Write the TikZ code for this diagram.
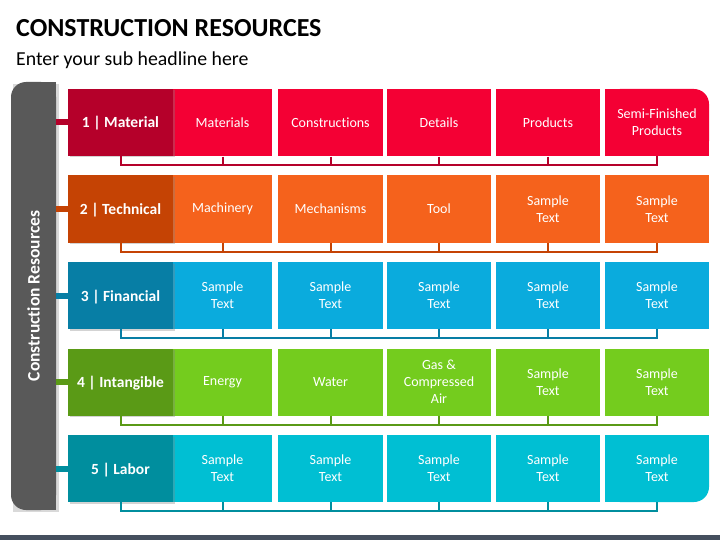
\documentclass[tikz,border=0pt]{standalone}
\usepackage{fontspec}
\setmainfont{Carlito}[Ligatures={NoCommon}]
\usetikzlibrary{shadows}
\definecolor{ra}{HTML}{B5002A}\definecolor{rb}{HTML}{F40034}
\definecolor{oa}{HTML}{C54304}\definecolor{ob}{HTML}{F5621C}
\definecolor{ba}{HTML}{077EA5}\definecolor{bb}{HTML}{0AABDD}
\definecolor{ga}{HTML}{5A9A16}\definecolor{gb}{HTML}{74CC1E}
\definecolor{ta}{HTML}{008E9E}\definecolor{tb}{HTML}{00BFD3}
\definecolor{barg}{HTML}{595959}
\definecolor{foot}{HTML}{454F5E}
\begin{document}
\begin{tikzpicture}[x=1pt,y=-1pt,
  hdr/.style={minimum width=105pt,minimum height=67pt,inner sep=0pt,text=white,
    font=\bfseries\fontsize{15.5}{18}\selectfont,text height=11pt,text depth=0pt,
    drop shadow={shadow xshift=1.5pt,shadow yshift=-1.5pt,opacity=0.35}},
  cellbox/.style={minimum width=104pt,minimum height=67pt,inner sep=0pt,text=white,
    align=center,font=\fontsize{14}{17}\selectfont},
  firstcell/.style={cellbox,minimum width=99pt},
  conn/.style={line width=2pt},
  stub/.style={line width=6pt}]
\useasboundingbox (0,0) rectangle (720,540);
% title
\node[anchor=base west,inner sep=0pt,font=\bfseries\fontsize{26}{30}\selectfont] (title) at (16,37) {CONSTRUCTION RESOURCES};
\node[anchor=base west,inner sep=0pt,font=\fontsize{19.8}{22}\selectfont] (sub) at (16,66) {Enter your sub headline here};
% footer
\fill[foot] (0,535) rectangle (720,540);
% side bar
\fill[black!15] (13,84) rectangle (59,512);
\fill[barg,rounded corners=15pt] (11,82) rectangle (56,510);
\fill[barg] (35,82) rectangle (56,510);
\node[rotate=90,text=white,font=\bfseries\fontsize{17.5}{20}\selectfont] (barlabel) at (33.5,296) {Construction Resources};
\coordinate (barE) at (56,0);

% row 1
\node[firstcell,fill=rb] (c11) at (222.5,123) {Materials};
\node[cellbox,fill=rb,minimum width=105pt] (c12) at (330.5,123) {Constructions};
\node[cellbox,fill=rb] (c13) at (439,123) {Details};
\node[cellbox,fill=rb] (c14) at (548,123) {Products};
\fill[rb,rounded corners=15pt] (605,89) rectangle (709,156);
\fill[rb] (605,89) rectangle (690,156);
\fill[rb] (605,110) rectangle (709,156);
\node[cellbox] (c15) at (657,122.5) {Semi-Finished\\Products};
\node[hdr,fill=ra] (h1) at (120.5,122.5) {1 | Material};

% row 2
\node[firstcell,fill=ob] (c21) at (222.5,209) {Machinery};
\node[cellbox,fill=ob,minimum width=105pt] (c22) at (330.5,209) {Mechanisms};
\node[cellbox,fill=ob] (c23) at (439,209) {Tool};
\node[cellbox,fill=ob] (c24) at (548,209) {Sample\\Text};
\node[cellbox,fill=ob] (c25) at (657,209) {Sample\\Text};
\node[hdr,fill=oa] (h2) at (120.5,209) {2 | Technical};

% row 3
\node[firstcell,fill=bb] (c31) at (222.5,295.5) {Sample\\Text};
\node[cellbox,fill=bb,minimum width=105pt] (c32) at (330.5,295.5) {Sample\\Text};
\node[cellbox,fill=bb] (c33) at (439,295.5) {Sample\\Text};
\node[cellbox,fill=bb] (c34) at (548,295.5) {Sample\\Text};
\node[cellbox,fill=bb] (c35) at (657,295.5) {Sample\\Text};
\node[hdr,fill=ba] (h3) at (120.5,295.5) {3 | Financial};

% row 4
\node[firstcell,fill=gb] (c41) at (222.5,382) {Energy};
\node[cellbox,fill=gb,minimum width=105pt] (c42) at (330.5,382) {Water};
\node[cellbox,fill=gb] (c43) at (439,382) {Gas \&\\Compressed\\Air};
\node[cellbox,fill=gb] (c44) at (548,382) {Sample\\Text};
\node[cellbox,fill=gb] (c45) at (657,382) {Sample\\Text};
\node[hdr,fill=ga] (h4) at (120.5,382) {4 | Intangible};

% row 5
\node[firstcell,fill=tb] (c51) at (222.5,468.5) {Sample\\Text};
\node[cellbox,fill=tb,minimum width=105pt] (c52) at (330.5,468.5) {Sample\\Text};
\node[cellbox,fill=tb] (c53) at (439,468.5) {Sample\\Text};
\node[cellbox,fill=tb] (c54) at (548,468.5) {Sample\\Text};
\fill[tb,rounded corners=15pt] (605,435) rectangle (709,502);
\fill[tb] (605,435) rectangle (690,502);
\fill[tb] (605,435) rectangle (709,480);
\node[cellbox] (c55) at (657,468.5) {Sample\\Text};
\node[hdr,fill=ta] (h5) at (120.5,468.5) {5 | Labor};

% connectors
\foreach \r/\col in {1/ra,2/oa,3/ba,4/ga,5/ta}{
  \draw[stub,\col] (barE |- h\r.west) -- (h\r.west);
  \draw[conn,\col] (h\r.south) -- ++(0,9) -| (c\r5.south);
  \foreach \k in {1,2,3,4}{
    \draw[conn,\col] (c\r\k.south) -- ++(0,9);
  }
}
\end{tikzpicture}
\end{document}
